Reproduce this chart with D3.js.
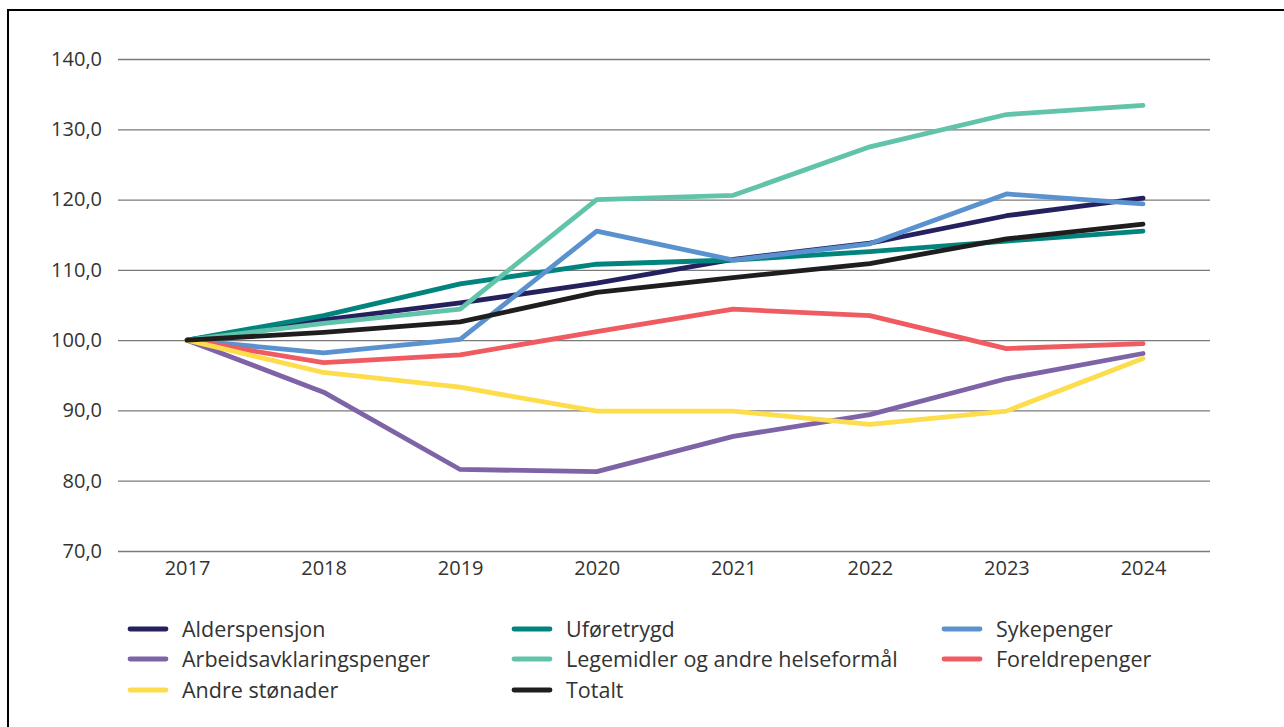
<!DOCTYPE html>
<html>
<head>
<meta charset="utf-8">
<script src="https://cdn.jsdelivr.net/npm/d3@7"></script>
<style>
  body { margin: 0; background: #fff; }
  svg { display: block; font-family: "Open Sans", "Noto Sans", sans-serif; }
  .axis { font-family: "Open Sans", "Noto Sans", sans-serif; }
  .axis .tick text { fill: #333; font-size: 20px; }
  .legendtext { fill: #333; font-size: 21.5px; }
</style>
</head>
<body>
<svg width="1284" height="727"></svg>
<script>
const YEARS = [2017, 2018, 2019, 2020, 2021, 2022, 2023, 2024];
const SERIES_NAMES = [
    'Alderspensjon', 'Uføretrygd', 'Sykepenger',
    'Arbeidsavklaringspenger', 'Legemidler og andre helseformål', 'Foreldrepenger',
    'Andre stønader', 'Totalt',
];
const ALDERSPENSJON = [100, 102.9, 105.3, 108.1, 111.5, 113.8, 117.7, 120.2];
const UFORETRYGD    = [100, 103.5, 108.0, 110.8, 111.4, 112.6, 114.1, 115.5];
const SYKEPENGER    = [100, 98.2, 100.1, 115.5, 111.4, 113.7, 120.8, 119.4];
const AAP           = [100, 92.6, 81.6, 81.3, 86.3, 89.4, 94.5, 98.1];
const LEGEMIDLER    = [100, 102.4, 104.4, 120.0, 120.6, 127.5, 132.1, 133.4];
const FORELDRE      = [100, 96.8, 97.9, 101.2, 104.4, 103.5, 98.8, 99.5];
const ANDRE         = [100, 95.4, 93.3, 89.9, 89.9, 88.0, 89.9, 97.4];
const TOTALT        = [100, 101.1, 102.6, 106.8, 108.9, 110.9, 114.4, 116.5];
const COLORS = ['#25215f', '#00847d', '#5a91cf', '#7e63a7', '#61c3a9', '#ef5b61', '#fddd4b', '#1f1d1e'];
const Y_TICKS = [70, 80, 90, 100, 110, 120, 130, 140];

const seriesData = [ALDERSPENSJON, UFORETRYGD, SYKEPENGER, AAP, LEGEMIDLER, FORELDRE, ANDRE, TOTALT]
    .map((values, i) => ({ name: SERIES_NAMES[i], color: COLORS[i], values }));

const svg = d3.select('svg');

// frame around the figure
svg.append('rect')
    .attr('x', 8).attr('y', 10)
    .attr('width', 1300).attr('height', 740)
    .attr('fill', 'none').attr('stroke', '#000').attr('stroke-width', 2);

const x = d3.scalePoint().domain(YEARS).range([187, 1143]);
const y = d3.scaleLinear().domain([70, 140]).range([551, 59]);

// y grid + labels
const yAxis = svg.append('g')
    .classed('axis', true)
    .attr('transform', 'translate(118,0)')
    .call(d3.axisLeft(y).tickValues(Y_TICKS).tickSize(-1092).tickPadding(16)
        .tickFormat(d => d3.format('.1f')(d).replace('.', ',')));
yAxis.attr('font-family', null).attr('font-size', null);
yAxis.select('.domain').remove();
yAxis.selectAll('.tick line').attr('stroke', '#7a7a7a').attr('stroke-width', 1.3);

// x labels
const xAxis = svg.append('g')
    .classed('axis', true)
    .attr('transform', 'translate(0,551)')
    .call(d3.axisBottom(x).tickSize(0).tickPadding(10));
xAxis.attr('font-family', null).attr('font-size', null);
xAxis.select('.domain').remove();

const line = d3.line()
    .x((d, i) => x(YEARS[i]))
    .y(d => y(d));

svg.append('g')
    .selectAll('path')
    .data(seriesData)
    .enter()
    .append('path')
    .attr('d', s => line(s.values))
    .attr('fill', 'none')
    .attr('stroke', s => s.color)
    .attr('stroke-width', 4.8)
    .attr('stroke-linecap', 'round')
    .attr('stroke-linejoin', 'round');

// legend, three columns
const colX = [128, 512, 942];
const rowY = [629, 659, 690];
const legend = svg.append('g')
    .selectAll('g')
    .data(seriesData)
    .enter()
    .append('g')
    .attr('transform', (s, i) => `translate(${colX[i % 3]},${rowY[Math.floor(i / 3)]})`);

legend.append('line')
    .attr('x1', 2).attr('x2', 38)
    .attr('stroke', s => s.color)
    .attr('stroke-width', 4.8)
    .attr('stroke-linecap', 'round');

legend.append('text')
    .classed('legendtext', true)
    .attr('x', 54)
    .attr('dy', '0.35em')
    .text(s => s.name);
</script>
</body>
</html>
